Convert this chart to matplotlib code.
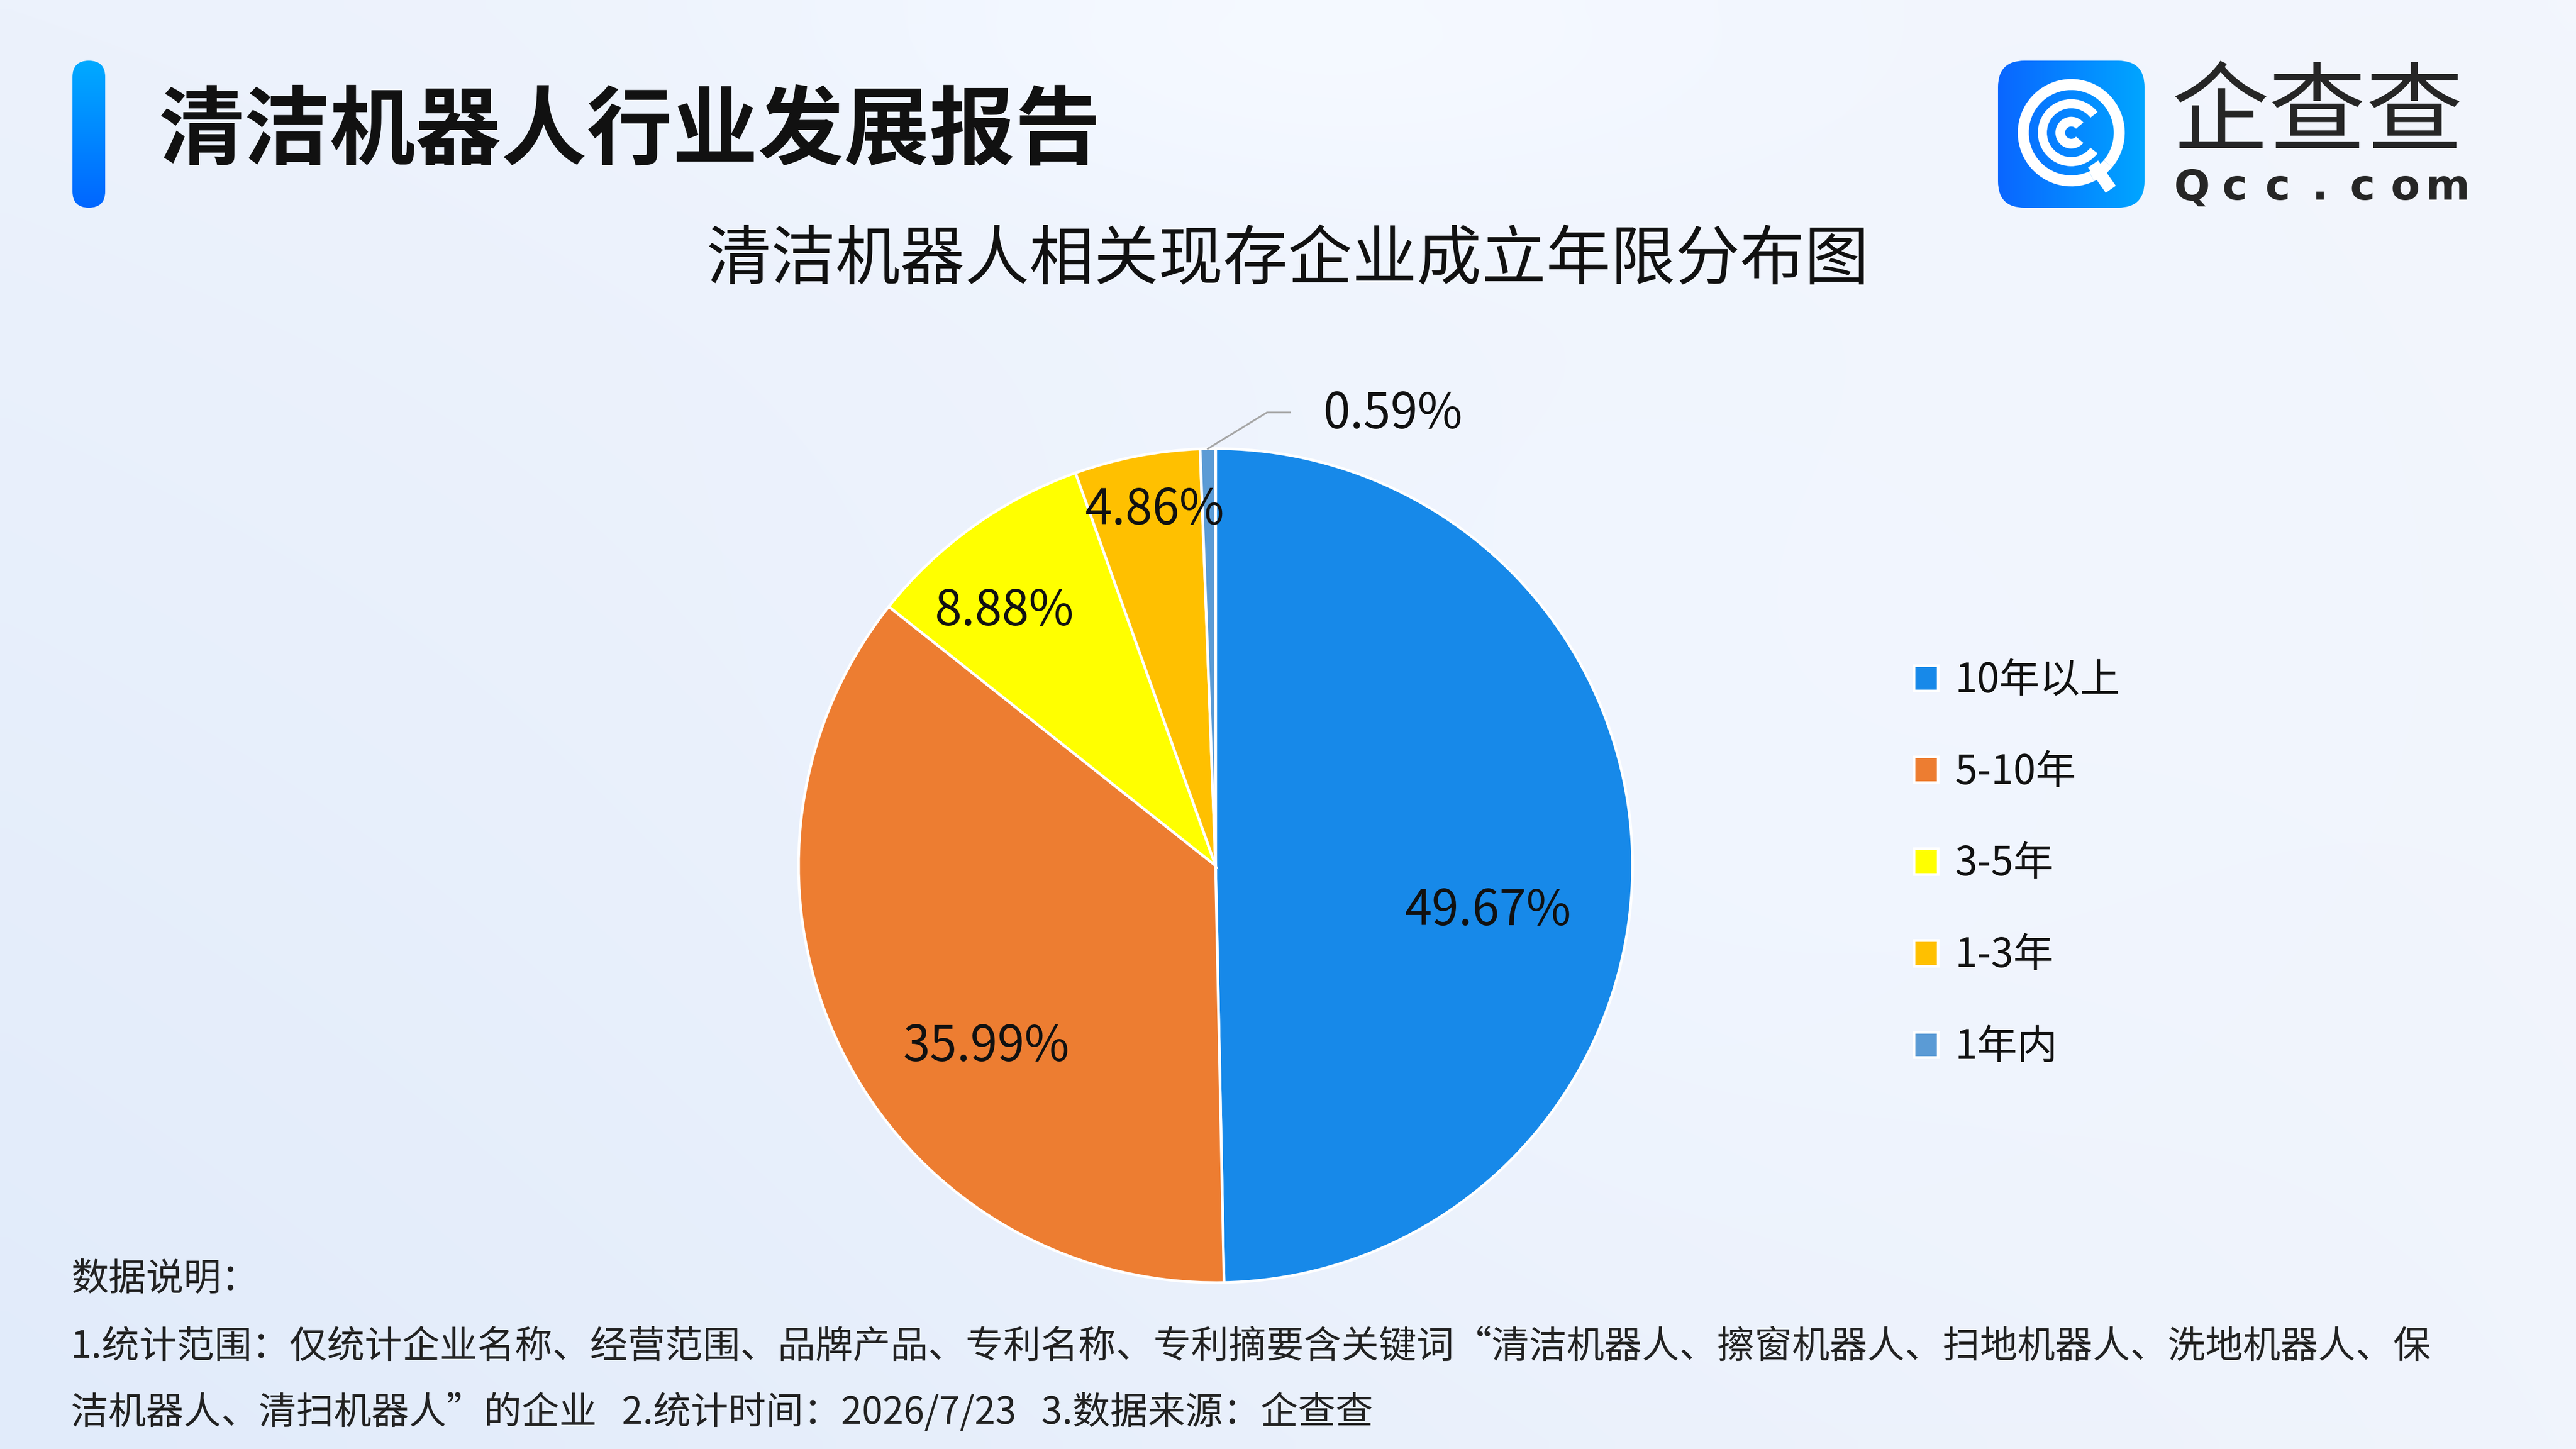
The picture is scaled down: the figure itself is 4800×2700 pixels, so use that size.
import numpy as np
import matplotlib
matplotlib.use("Agg")
import matplotlib.pyplot as plt
from matplotlib.patches import FancyBboxPatch, Wedge
from matplotlib.colors import to_rgb

plt.rcParams['font.family'] = ['Noto Sans CJK SC', 'DejaVu Sans']

# ---------------- data ----------------
categories = ['10年以上', '5-10年', '3-5年', '1-3年', '1年内']
shares = [49.67, 35.99, 8.88, 4.86, 0.59]
pct_labels = ['49.67%', '35.99%', '8.88%', '4.86%', '0.59%']
colors = ['#1789E9', '#ED7D31', '#FFFF00', '#FFC000', '#5B9BD5']

report_title = '清洁机器人行业发展报告'
chart_title = '清洁机器人相关现存企业成立年限分布图'
note_lines = [
    '数据说明：',
    '1.统计范围：仅统计企业名称、经营范围、品牌产品、专利名称、专利摘要含关键词“清洁机器人、擦窗机器人、扫地机器人、洗地机器人、保',
    '洁机器人、清扫机器人”的企业   2.统计时间：2026/7/23   3.数据来源：企查查',
]
logo_cn = '企查查'
logo_en = 'Qcc.com'

# ---------------- figure ----------------
W, H = 4800, 2700
fig = plt.figure(figsize=(16, 9), dpi=300)


def fx(px):
    return px / W


def fy(py):
    return 1 - py / H


# background gradient
bg = fig.add_axes([0, 0, 1, 1], zorder=-10)
bg.axis('off')
ny, nx = 90, 160
yy, xx = np.mgrid[0:1:ny * 1j, 0:1:nx * 1j]
tl = np.array([236, 242, 252]) / 255
tr = np.array([243, 246, 253]) / 255
bl = np.array([225, 235, 250]) / 255
br = np.array([240, 244, 252]) / 255
img = (tl * ((1 - xx) * (1 - yy))[..., None] + tr * (xx * (1 - yy))[..., None]
       + bl * ((1 - xx) * yy)[..., None] + br * (xx * yy)[..., None])
glow = np.exp(-(((xx - 0.5) / 0.18) ** 2 + ((yy - 0.02) / 0.12) ** 2))
glow2 = np.exp(-(((xx - 0.62) / 0.25) ** 2 + ((yy - 0.55) / 0.35) ** 2))
img = np.clip(img + 0.02 * glow[..., None] + 0.012 * glow2[..., None], 0, 1)
bg.imshow(img, extent=[0, 1, 0, 1], aspect='auto', interpolation='bilinear')
bg.set_xlim(0, 1)
bg.set_ylim(0, 1)


def gradient_box(x0, y0, x1, y1, c_a, c_b, vertical, rounding, aspect):
    ax = fig.add_axes([fx(x0), fy(y1), (x1 - x0) / W, (y1 - y0) / H])
    ax.axis('off')
    ax.set_xlim(0, 1)
    ax.set_ylim(0, 1)
    t = np.linspace(0, 1, 200)
    ca, cb = np.array(to_rgb(c_a)), np.array(to_rgb(c_b))
    if vertical:
        g = (ca * (1 - t)[:, None] + cb * t[:, None])[:, None, :]
    else:
        g = (ca * (1 - t)[:, None] + cb * t[:, None])[None, :, :]
    im = ax.imshow(g, extent=[0, 1, 0, 1], aspect='auto', interpolation='bilinear')
    patch = FancyBboxPatch((0, 0), 1, 1, boxstyle=f'round,pad=0,rounding_size={rounding}',
                           mutation_aspect=aspect, transform=ax.transData,
                           facecolor='none', edgecolor='none')
    ax.add_patch(patch)
    im.set_clip_path(patch)
    return ax


# title bar
gradient_box(135, 113, 196, 387, '#00AAFF', '#0066FF', True, 0.5, 61 / 274)
fig.text(fx(296), fy(247), report_title, fontsize=38.3, fontweight='bold',
         ha='left', va='center', color='#111111')

# logo icon
lax = gradient_box(3723, 113, 3996, 387, '#0A66FF', '#00A6FF', False, 0.18, 1.0)
cx, cy = 0.50, 0.51
lax.add_patch(Wedge((cx, cy), 0.365, -65 + 360, -40 + 360, width=0.075, facecolor='white'))
lax.add_patch(Wedge((cx, cy), 0.365, -40, 295, width=0.075, facecolor='white'))
lax.add_patch(Wedge((cx, cy), 0.228, 38, 322, width=0.062, facecolor='white'))
lax.add_patch(Wedge((cx, cy), 0.108, 40, 320, width=0.066, facecolor='white'))
ang = np.deg2rad(-55)
lax.plot([cx + 0.26 * np.cos(ang), cx + 0.47 * np.cos(ang)],
         [cy + 0.26 * np.sin(ang), cy + 0.47 * np.sin(ang)],
         color='white', lw=5.5, solid_capstyle='butt')

fig.text(fx(4318), fy(216), logo_cn, fontsize=43.5, ha='center', va='center', color='#262626')
for i, ch in enumerate(logo_en):
    fig.text(fx(4085 + i * 79.3), fy(350), ch, fontsize=19, ha='center', va='center',
             color='#262626', family='DejaVu Sans', fontweight='bold')

# chart title
fig.text(0.5, fy(487), chart_title, fontsize=28.9, ha='center', va='center', color='#111111')

# pie
pcx, pcy, pr = 2265, 1613, 777
pax = fig.add_axes([fx(pcx - pr), fy(pcy + pr), 2 * pr / W, 2 * pr / H])
wedges, _ = pax.pie(shares, colors=colors, startangle=90, counterclock=False, radius=1,
                    wedgeprops=dict(edgecolor='white', linewidth=1.2))
pax.set_xlim(-1, 1)
pax.set_ylim(-1, 1)
pax.axis('off')

label_r = [0.66, 0.695, 0.80, 0.875]
label_dtheta = [-9.2, 11.3, 3.6, -1.2]
for w, lab, r, dt in zip(wedges[:4], pct_labels[:4], label_r, label_dtheta):
    th = np.deg2rad((w.theta1 + w.theta2) / 2 + dt)
    pax.text(r * np.cos(th), r * np.sin(th) - 0.01, lab, ha='center', va='center',
             fontsize=21.8, color='#111111')

w = wedges[4]
th = np.deg2rad((w.theta1 + w.theta2) / 2)
p0 = np.array([np.cos(th), np.sin(th)]) * 1.0
p1 = p0 + np.array([0.142, 0.087])
p2 = p1 + np.array([0.055, 0.0])
pax.plot([p0[0], p1[0], p2[0]], [p0[1], p1[1], p2[1]], color='#A6A6A6', lw=0.8,
         clip_on=False)
pax.text(p2[0] + 0.08, p2[1] - 0.004, pct_labels[4], ha='left', va='center',
         fontsize=21.8, color='#111111')

# legend
fig.legend(wedges, categories, loc='upper left', bbox_to_anchor=(fx(3566), fy(1230)),
           frameon=False, fontsize=18, handlelength=0.6, handleheight=0.6,
           handletextpad=0.42, labelspacing=1.25, borderpad=0, borderaxespad=0,
           labelcolor='#111111')

# notes
note_y = [2384, 2511, 2633]
for txt, yv in zip(note_lines, note_y):
    fig.text(fx(132), fy(yv), txt, fontsize=16.8, ha='left', va='center', color='#222222')

fig.savefig('out.png', dpi=300)
